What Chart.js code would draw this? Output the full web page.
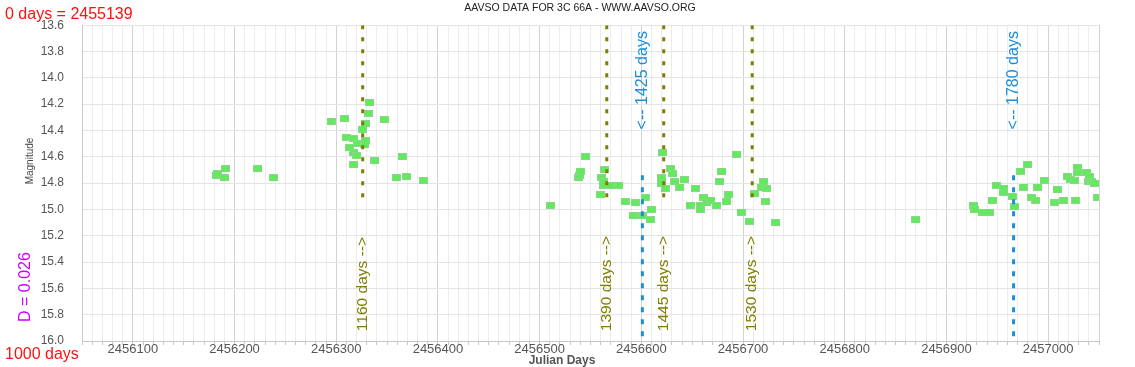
<!DOCTYPE html>
<html>
<head>
<meta charset="utf-8">
<title>AAVSO 3C 66A</title>
<script src="https://cdn.jsdelivr.net/npm/chart.js@4.4.1/dist/chart.umd.min.js"></script>
<style>
  html, body { margin: 0; padding: 0; background: #fff; }
  canvas { display: block; }
</style>
</head>
<body>
<canvas id="chart" width="1135" height="367"></canvas>
<script>
const obsJD = [
  2456182, 2456183, 2456190, 2456191, 2456223, 2456238, 2456295, 2456308, 2456310, 2456313,
  2456317, 2456317, 2456317, 2456320, 2456321, 2456326, 2456328, 2456329, 2456329, 2456332,
  2456333, 2456338, 2456347, 2456359, 2456365, 2456369, 2456386,
  2456511, 2456538, 2456539, 2456540, 2456545, 2456560, 2456561, 2456563, 2456563, 2456564,
  2456570, 2456578, 2456584, 2456592, 2456594, 2456601, 2456604, 2456609, 2456610, 2456620,
  2456620, 2456621, 2456624, 2456629, 2456631, 2456633, 2456638, 2456642, 2456648, 2456653,
  2456658, 2456658, 2456661, 2456664, 2456668, 2456674, 2456677, 2456679, 2456684, 2456686,
  2456694, 2456698, 2456706, 2456711, 2456718, 2456720, 2456722, 2456723, 2456732,
  2456870, 2456927, 2456928, 2456935, 2456942, 2456945, 2456949, 2456956, 2456956, 2456965,
  2456967, 2456973, 2456976, 2456980, 2456984, 2456988, 2456990, 2456996, 2457006, 2457009,
  2457015, 2457019, 2457022, 2457026, 2457027, 2457029, 2457029, 2457038, 2457040, 2457041,
  2457043, 2457046, 2457049
];
const obsMag = [
  14.74, 14.73, 14.76, 14.69, 14.69, 14.76, 14.33, 14.31, 14.45, 14.53,
  14.46, 14.57, 14.66, 14.59, 14.50, 14.39, 14.51, 14.35, 14.48, 14.27,
  14.19, 14.63, 14.32, 14.76, 14.60, 14.75, 14.78,
  14.97, 14.76, 14.74, 14.71, 14.60, 14.89, 14.76, 14.79, 14.82, 14.70,
  14.82, 14.82, 14.94, 15.05, 14.95, 15.05, 14.91, 15.08, 15.00, 14.76,
  14.80, 14.57, 14.84, 14.69, 14.73, 14.79, 14.83, 14.77, 14.97, 14.84,
  14.97, 15.00, 14.91, 14.95, 14.93, 14.97, 14.79, 14.71, 14.94, 14.89,
  14.58, 15.02, 15.09, 14.88, 14.83, 14.79, 14.94, 14.84, 15.10,
  15.08, 14.97, 15.00, 15.02, 15.02, 14.93, 14.82, 14.84, 14.87, 14.90,
  14.98, 14.71, 14.83, 14.66, 14.91, 14.93, 14.83, 14.78, 14.95, 14.85,
  14.93, 14.75, 14.77, 14.78, 14.93, 14.68, 14.72, 14.72, 14.79, 14.75,
  14.79, 14.80, 14.91
];

// dashed markers
const oliveJD = [2456326, 2456566, 2456622, 2456709];
const oliveLabels = ['1160 days -->', '1390 days -->', '1445 days -->', '1530 days -->'];
const blueJD = [2456601, 2456966];
const blueLabels = ['<-- 1425 days', '<-- 1780 days'];

const xMin = 2456050, xMax = 2457050;
const yMin = 13.6, yMax = 16.0;

const FONT = '"Liberation Sans", Arial, sans-serif';

function makeBox() {
  const c = document.createElement('canvas');
  c.width = 9;
  c.height = 7;
  const g = c.getContext('2d');
  g.fillStyle = '#60ea5c';
  g.fillRect(0, 0, 9, 7);
  g.strokeStyle = 'rgba(140,215,140,0.9)';
  g.lineWidth = 1;
  g.strokeRect(0.5, 0.5, 8, 6);
  return c;
}

function vLine(jd, from, to, color, dash) {
  return {
    type: 'line',
    data: [{ x: jd, y: from }, { x: jd, y: to }],
    borderColor: color,
    borderWidth: 3,
    borderDash: dash,
    pointRadius: 0,
    fill: false
  };
}

function vText(ctx, text, x, y, align, color, font) {
  ctx.save();
  ctx.translate(x, y);
  ctx.rotate(-Math.PI / 2);
  ctx.font = font;
  ctx.fillStyle = color;
  ctx.textAlign = align;
  ctx.textBaseline = 'middle';
  ctx.fillText(text, 0, 0);
  ctx.restore();
}

const overlay = {
  id: 'overlay',
  afterDatasetsDraw(chart) {
    const { ctx, scales: { x, y } } = chart;
    oliveJD.forEach((jd, i) => {
      vText(ctx, oliveLabels[i], x.getPixelForValue(jd), y.getPixelForValue(15.925), 'left', '#808000', '15.5px ' + FONT);
    });
    blueJD.forEach((jd, i) => {
      vText(ctx, blueLabels[i], x.getPixelForValue(jd), y.getPixelForValue(13.645), 'right', '#1a8fdc', '16px ' + FONT);
    });
  },
  afterDraw(chart) {
    const ctx = chart.ctx;
    ctx.save();
    ctx.textBaseline = 'alphabetic';
    ctx.textAlign = 'left';
    ctx.fillStyle = '#ff1010';
    ctx.font = '16px ' + FONT;
    ctx.fillText('0 days = 2455139', 5, 18.5);
    ctx.fillText('1000 days', 5, 359);

    ctx.fillStyle = '#222';
    ctx.font = '10.5px ' + FONT;
    ctx.textAlign = 'center';
    ctx.textBaseline = 'middle';
    ctx.fillText('AAVSO DATA FOR 3C 66A - WWW.AAVSO.ORG', 580, 8.5);

    ctx.fillStyle = '#555';
    ctx.font = 'bold 12px ' + FONT;
    ctx.fillText('Julian Days', 562, 361);
    ctx.restore();

    vText(ctx, 'Magnitude', 30, 161, 'center', '#444', '10px ' + FONT);
    vText(ctx, 'D = 0.026', 26, 287, 'center', '#cc00ff', '16px ' + FONT);
  }
};

document.addEventListener('DOMContentLoaded', () => {
  const points = obsJD.map((jd, i) => ({ x: jd, y: obsMag[i] }));

  const datasets = [];
  oliveJD.forEach(jd => datasets.push(vLine(jd, 13.6, 14.95, '#7d7d00', [4, 8])));
  blueJD.forEach(jd => datasets.push(vLine(jd, 14.74, 16.0, '#1a8fdc', [5, 7])));
  datasets.push({
    type: 'scatter',
    data: points,
    pointStyle: makeBox(),
    pointRadius: 4,
    showLine: false
  });

  new Chart(document.getElementById('chart'), {
    type: 'scatter',
    data: { datasets },
    options: {
      responsive: false,
      devicePixelRatio: 1,
      animation: false,
      events: [],
      layout: { padding: { top: 24, right: 36, left: 0, bottom: 0 } },
      plugins: {
        legend: { display: false },
        tooltip: { enabled: false },
        title: { display: false }
      },
      scales: {
        x: {
          type: 'linear',
          min: xMin,
          max: xMax,
          afterFit: s => { s.height = 26; },
          border: { color: '#c8c8c8' },
          grid: {
            color: c => {
              const v = c.tick ? c.tick.value : 0;
              if (v % 100 === 0 || v === xMin || v === xMax) return '#d2d2d2';
              return '#ececec';
            },
            tickColor: '#c8c8c8',
            tickLength: 4
          },
          ticks: {
            stepSize: 10,
            autoSkip: false,
            maxRotation: 0,
            padding: -3,
            color: '#555',
            font: { family: FONT, size: 13 },
            callback: v => (v % 100 === 0 ? String(v) : '')
          }
        },
        y: {
          type: 'linear',
          reverse: true,
          min: yMin,
          max: yMax,
          afterFit: s => { s.width = 82; },
          border: { color: '#c8c8c8' },
          grid: {
            color: c => (c.index === 0 ? '#d2d2d2' : '#e4e4e4'),
            drawTicks: false
          },
          ticks: {
            stepSize: 0.2,
            padding: 18,
            color: '#555',
            font: { family: FONT, size: 12 },
            callback: v => v.toFixed(1)
          }
        }
      }
    },
    plugins: [overlay]
  });
});
</script>
</body>
</html>
